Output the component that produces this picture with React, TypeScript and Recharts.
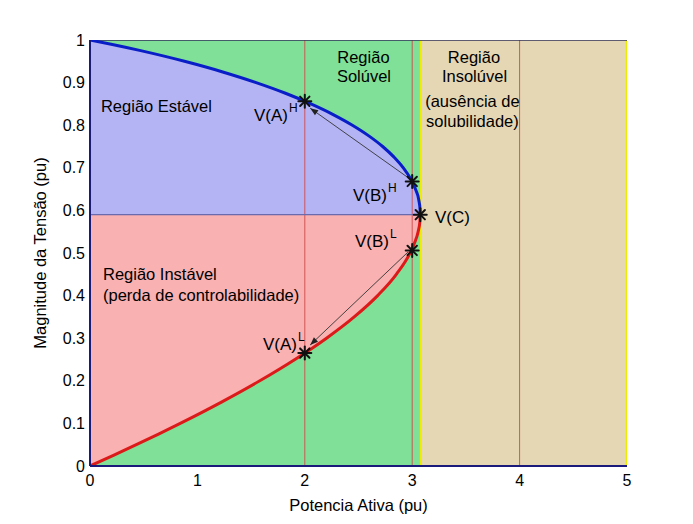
import React from 'react';
import { ComposedChart, XAxis, YAxis, Area, Line, Scatter } from 'recharts';

const FONT = '"Liberation Sans", Arial, Helvetica, sans-serif';

// ---- data ----
const xTicks = [0, 1, 2, 3, 4, 5];
const yTicks = [0, 0.1, 0.2, 0.3, 0.4, 0.5, 0.6, 0.7, 0.8, 0.9, 1];

// upper (stable) branch of the PV curve: active power p (pu), voltage v (pu)
const upperBranch = [
  { p: 0, v: 1 }, { p: 0.197, v: 0.99 }, { p: 0.472, v: 0.975 }, { p: 0.88, v: 0.95 },
  { p: 1.236, v: 0.925 }, { p: 1.547, v: 0.9 }, { p: 1.82, v: 0.875 }, { p: 2.057, v: 0.85 },
  { p: 2.264, v: 0.825 }, { p: 2.443, v: 0.8 }, { p: 2.596, v: 0.775 }, { p: 2.725, v: 0.75 },
  { p: 2.831, v: 0.725 }, { p: 2.917, v: 0.7 }, { p: 2.983, v: 0.675 }, { p: 3.03, v: 0.65 },
  { p: 3.061, v: 0.625 }, { p: 3.074, v: 0.6 }, { p: 3.075, v: 0.59 },
];

// lower (unstable) branch
const lowerBranch = [
  { p: 0, v: 0 }, { p: 0.218, v: 0.025 }, { p: 0.431, v: 0.05 }, { p: 0.638, v: 0.075 },
  { p: 0.84, v: 0.1 }, { p: 1.224, v: 0.15 }, { p: 1.581, v: 0.2 }, { p: 1.908, v: 0.25 },
  { p: 2.202, v: 0.3 }, { p: 2.46, v: 0.35 }, { p: 2.678, v: 0.4 }, { p: 2.852, v: 0.45 },
  { p: 2.98, v: 0.5 }, { p: 3.024, v: 0.525 }, { p: 3.055, v: 0.55 }, { p: 3.072, v: 0.575 },
  { p: 3.075, v: 0.59 },
];

const V_CRIT = 0.59; // nose voltage
const P_LIMIT = 3.08; // limit of solvable region
const P_MAX = 5;
const markerLinesP = [2, 3, 4];

// operating points (asterisks)
const operatingPoints = [
  { p: 2, v: 0.856 },
  { p: 3, v: 0.668 },
  { p: 3.075, v: 0.59 },
  { p: 3, v: 0.506 },
  { p: 2, v: 0.265 },
];

// arrows: tail -> tip
const arrowUpper = [{ p: 2.95, v: 0.679 }, { p: 2.05, v: 0.84 }];
const arrowLower = [{ p: 2.96, v: 0.502 }, { p: 2.05, v: 0.284 }];

// text annotations (data coordinates)
const regionTexts = [
  { p: 0.102, v: 0.831, text: 'Região Estável', anchor: 'start' },
  { p: 0.121, v: 0.437, text: 'Região Instável', anchor: 'start' },
  { p: 0.121, v: 0.387, text: '(perda de controlabilidade)', anchor: 'start' },
  { p: 2.546, v: 0.946, text: 'Região', anchor: 'middle' },
  { p: 2.551, v: 0.901, text: 'Solúvel', anchor: 'middle' },
  { p: 3.575, v: 0.946, text: 'Região', anchor: 'middle' },
  { p: 3.58, v: 0.901, text: 'Insolúvel', anchor: 'middle' },
  { p: 3.561, v: 0.843, text: '(ausência de', anchor: 'middle' },
  { p: 3.561, v: 0.796, text: 'solubilidade)', anchor: 'middle' },
];
const pointTexts = [
  { p: 1.527, v: 0.81, text: 'V(A)', sup: 'H' },
  { p: 2.449, v: 0.622, text: 'V(B)', sup: 'H' },
  { p: 3.212, v: 0.57, text: 'V(C)', sup: '' },
  { p: 2.467, v: 0.514, text: 'V(B)', sup: 'L' },
  { p: 1.611, v: 0.272, text: 'V(A)', sup: 'L' },
];
const titleText = [{ p: 2.5, v: 1, text: 'Curva PV' }];

// ---- derived series ----
const greenRegion = [{ p: 0, range: [0, 1] }, { p: P_LIMIT, range: [0, 1] }];
const tanRegion = [{ p: P_LIMIT, range: [0, 1] }, { p: P_MAX, range: [0, 1] }];
const stableRegion = upperBranch.map((d) => ({ p: d.p, range: [V_CRIT, d.v] }));
const unstableRegion = lowerBranch.map((d) => ({ p: d.p, range: [d.v, V_CRIT] }));
const critLine = [{ p: 0, v: V_CRIT }, { p: 3.075, v: V_CRIT }];
const limitLine = [{ p: P_LIMIT, v: 0 }, { p: P_LIMIT, v: 1 }];
const rightLine = [{ p: P_MAX, v: 0 }, { p: P_MAX, v: 1 }];
const topLine = [{ p: 0, v: 1 }, { p: P_MAX, v: 1 }];

const W = 693;
const H = 524;
const M = { top: 40, right: 66, bottom: 0, left: 0 };
const Y_AXIS_W = 90;
const X_AXIS_H = 58;
const PX_PER_P = (W - M.left - M.right - Y_AXIS_W) / 5;
const PX_PER_V = H - M.top - X_AXIS_H;

const StarShape = (props: any) => {
  const { cx, cy } = props;
  if (cx == null || cy == null) return <g />;
  const r = 6.5;
  const d = r * 0.72;
  return (
    <g stroke="#111" strokeWidth={2} strokeLinecap="round">
      <line x1={cx - r} y1={cy} x2={cx + r} y2={cy} />
      <line x1={cx} y1={cy - r} x2={cx} y2={cy + r} />
      <line x1={cx - d} y1={cy - d} x2={cx + d} y2={cy + d} />
      <line x1={cx - d} y1={cy + d} x2={cx + d} y2={cy - d} />
    </g>
  );
};

const makeArrowDot = (seg: { p: number; v: number }[]) => (props: any) => {
  const { cx, cy, index, points } = props;
  if (index !== 1 || cx == null) return <g key={`ad${index}`} />;
  let ang: number;
  if (points && points.length > 1 && points[0].x != null) {
    ang = Math.atan2(points[1].y - points[0].y, points[1].x - points[0].x);
  } else {
    ang = Math.atan2(-(seg[1].v - seg[0].v) * PX_PER_V, (seg[1].p - seg[0].p) * PX_PER_P);
  }
  const len = 8;
  const hw = 3;
  const bx = cx - len * Math.cos(ang);
  const by = cy - len * Math.sin(ang);
  const nx = -Math.sin(ang) * hw;
  const ny = Math.cos(ang) * hw;
  return (
    <polygon
      key={`ad${index}`}
      points={`${cx},${cy} ${bx + nx},${by + ny} ${bx - nx},${by - ny}`}
      fill="#222"
      stroke="none"
    />
  );
};

const RegionTextShape = (props: any) => {
  const d = props.payload ?? props;
  return (
    <text x={props.cx} y={props.cy} textAnchor={d.anchor} fontSize={16.5} fontFamily={FONT} fill="#000">
      {d.text}
    </text>
  );
};

const PointTextShape = (props: any) => {
  const d = props.payload ?? props;
  return (
    <text x={props.cx} y={props.cy} textAnchor="start" fontSize={17} fontFamily={FONT} fill="#000">
      {d.text}
      {d.sup ? (
        <tspan dy={-9} dx={1} fontSize={12}>
          {d.sup}
        </tspan>
      ) : null}
    </text>
  );
};

const TitleShape = (props: any) => {
  const d = props.payload ?? props;
  return (
    <text x={props.cx} y={props.cy - 16.5} textAnchor="middle" fontSize={15} fontFamily={FONT} fill="#000">
      {d.text}
    </text>
  );
};

const XLabel = (props: any) => {
  const vb = props.viewBox || { x: 90, y: 466, width: 537, height: 58 };
  return (
    <text x={vb.x + vb.width / 2} y={vb.y + 45} textAnchor="middle" fontSize={16.5} fontFamily={FONT} fill="#000">
      Potencia Ativa (pu)
    </text>
  );
};

const YLabel = (props: any) => {
  const vb = props.viewBox || { x: 0, y: 40, width: 90, height: 426 };
  const x = vb.x + 46;
  const y = vb.y + vb.height / 2;
  return (
    <text
      x={x}
      y={y}
      transform={`rotate(-90, ${x}, ${y})`}
      textAnchor="middle"
      fontSize={16.5}
      fontFamily={FONT}
      fill="#000"
    >
      Magnitude da Tensão (pu)
    </text>
  );
};

const tickStyle = { fill: '#000', fontSize: 16, fontFamily: FONT };

export default function App() {
  return (
    <div style={{ position: 'absolute', left: 0, top: 0, width: W, height: H, background: '#fff' }}>
      <ComposedChart width={W} height={H} margin={M}>
        <XAxis
          dataKey="p"
          type="number"
          domain={[0, P_MAX]}
          ticks={xTicks}
          interval={0}
          allowDataOverflow
          height={X_AXIS_H}
          tickLine={false}
          tickSize={6}
          tickMargin={3}
          tick={tickStyle}
          axisLine={{ stroke: '#1a1a7a', strokeWidth: 2 }}
          label={XLabel}
        />
        <YAxis
          dataKey="v"
          type="number"
          domain={[0, 1]}
          ticks={yTicks}
          interval={0}
          allowDataOverflow
          width={Y_AXIS_W}
          tickLine={false}
          tickSize={3}
          tickMargin={2}
          tick={tickStyle}
          axisLine={{ stroke: '#1a1a7a', strokeWidth: 2 }}
          label={YLabel}
        />

        {/* background regions */}
        <Area data={greenRegion} dataKey="range" type="linear" stroke="none" fill="#80e097" fillOpacity={1} isAnimationActive={false} activeDot={false} />
        <Area data={tanRegion} dataKey="range" type="linear" stroke="none" fill="#e5d7b4" fillOpacity={1} isAnimationActive={false} activeDot={false} />
        <Area data={stableRegion} dataKey="range" type="monotone" stroke="none" fill="#b4b4f4" fillOpacity={1} isAnimationActive={false} activeDot={false} />
        <Area data={unstableRegion} dataKey="range" type="monotone" stroke="none" fill="#f9b1b1" fillOpacity={1} isAnimationActive={false} activeDot={false} />

        {/* reference lines */}
        {markerLinesP.map((p) => (
          <Line
            key={`vl${p}`}
            data={[{ p, v: 0 }, { p, v: 1 }]}
            dataKey="v"
            type="linear"
            stroke="#cf4a4a"
            strokeOpacity={0.9}
            strokeWidth={1}
            dot={false}
            activeDot={false}
            isAnimationActive={false}
          />
        ))}
        <Line data={critLine} dataKey="v" type="linear" stroke="#6a6aae" strokeWidth={1.2} dot={false} activeDot={false} isAnimationActive={false} />
        <Line data={limitLine} dataKey="v" type="linear" stroke="#eded00" strokeWidth={2} dot={false} activeDot={false} isAnimationActive={false} />
        <Line data={rightLine} dataKey="v" type="linear" stroke="#eded00" strokeWidth={2.5} dot={false} activeDot={false} isAnimationActive={false} />
        <Line data={topLine} dataKey="v" type="linear" stroke="#30305a" strokeWidth={1.5} dot={false} activeDot={false} isAnimationActive={false} />

        {/* PV curve */}
        <Line data={lowerBranch} dataKey="v" type="monotone" stroke="#dd1a1a" strokeWidth={3} dot={false} activeDot={false} isAnimationActive={false} />
        <Line data={upperBranch} dataKey="v" type="monotone" stroke="#0a1ec8" strokeWidth={3} dot={false} activeDot={false} isAnimationActive={false} />

        {/* arrows */}
        <Line data={arrowUpper} dataKey="v" type="linear" stroke="#333" strokeWidth={0.9} dot={makeArrowDot(arrowUpper)} activeDot={false} isAnimationActive={false} />
        <Line data={arrowLower} dataKey="v" type="linear" stroke="#333" strokeWidth={0.9} dot={makeArrowDot(arrowLower)} activeDot={false} isAnimationActive={false} />

        {/* operating points */}
        <Scatter data={operatingPoints} dataKey="v" shape={StarShape} isAnimationActive={false} />

        {/* texts */}
        <Scatter data={regionTexts} dataKey="v" shape={RegionTextShape} isAnimationActive={false} />
        <Scatter data={pointTexts} dataKey="v" shape={PointTextShape} isAnimationActive={false} />
        <Scatter data={titleText} dataKey="v" shape={TitleShape} isAnimationActive={false} />
      </ComposedChart>
    </div>
  );
}
